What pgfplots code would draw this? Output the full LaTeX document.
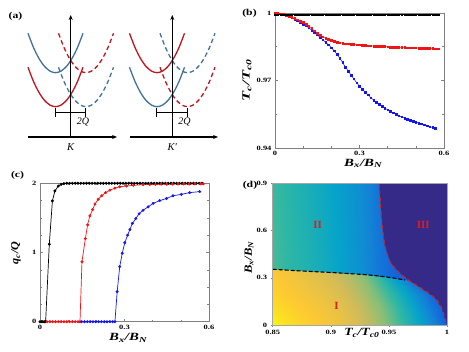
\documentclass[border=0pt]{standalone}
\usepackage{fontspec}
\setmainfont{Liberation Serif}
\usepackage{pgfplots}
\pgfplotsset{compat=1.18}
\usetikzlibrary{arrows.meta}

\definecolor{sred}{HTML}{C0141C}
\definecolor{sblue}{HTML}{41719C}
\definecolor{dred}{HTML}{F01414}
\definecolor{dblue}{HTML}{1414F0}
\definecolor{framegray}{gray}{0.5}
\definecolor{navy}{rgb}{0.2081,0.1663,0.5292}
\definecolor{bred}{HTML}{DC1E1E}

% the source figure was stretched sideways, so its text is wider than tall
\newcommand{\hs}[2][1.3]{\scalebox{#1}[1]{#2}}

\pgfplotsset{
  panel/.style={
    scale only axis, clip=false,
    axis line style={framegray, line width=0.6pt},
    tick style={framegray, line width=0.5pt},
    tick align=inside, major tick length=3pt, minor tick length=2pt,
    tick label style={font=\fontsize{6.5}{7}\selectfont\bfseries},
    /pgf/number format/assume math mode=true,
    xticklabel={\hs{\pgfmathprintnumber{\tick}}},
    yticklabel={\hs{\pgfmathprintnumber{\tick}}},
    label style={font=\fontsize{11}{12}\selectfont\bfseries\itshape},
  },
  solidc/.style={line width=1.3pt, smooth},
  dashc/.style={line width=1.3pt, smooth, dash pattern=on 4.5pt off 3pt},
}

\begin{document}
\begin{tikzpicture}
\useasboundingbox (0,0) rectangle (469pt,352pt);

% ---- (a) schematic, drawn in pixel units
\begin{axis}[at={(0pt,182pt)}, anchor=south west, scale only axis,
  width=235pt, height=170pt, xmin=0, xmax=235, ymin=0, ymax=170,
  y dir=reverse, axis lines=none, clip=false]
% K valley
\addplot[sblue, solidc] coordinates {(28,33.3) (33.5,47.5) (39,58.5) (44.5,66.4) (50,71.1) (55.5,72.7) (61,71.1) (66.5,66.4) (72,58.5) (77.5,47.5) (83,33.3)};
\addplot[sred, solidc] coordinates {(28,67.3) (33.5,81.5) (39,92.5) (44.5,100.4) (50,105.1) (55.5,106.7) (61,105.1) (66.5,100.4) (72,92.5) (77.5,81.5) (83,67.3)};
\addplot[sred, dashc] coordinates {(58.5,33.3) (64,47.5) (69.5,58.5) (75,66.4) (80.5,71.1) (86,72.7) (91.5,71.1) (97,66.4) (102.5,58.5) (108,47.5) (113.5,33.3)};
\addplot[sblue, dashc] coordinates {(58.5,67.3) (64,81.5) (69.5,92.5) (75,100.4) (80.5,105.1) (86,106.7) (91.5,105.1) (97,100.4) (102.5,92.5) (108,81.5) (113.5,67.3)};
% K' valley
\addplot[sred, solidc] coordinates {(129.5,33.3) (135,47.5) (140.5,58.5) (146,66.4) (151.5,71.1) (157,72.7) (162.5,71.1) (168,66.4) (173.5,58.5) (179,47.5) (184.5,33.3)};
\addplot[sblue, solidc] coordinates {(129.5,67.3) (135,81.5) (140.5,92.5) (146,100.4) (151.5,105.1) (157,106.7) (162.5,105.1) (168,100.4) (173.5,92.5) (179,81.5) (184.5,67.3)};
\addplot[sblue, dashc] coordinates {(160,33.3) (165.5,47.5) (171,58.5) (176.5,66.4) (182,71.1) (187.5,72.7) (193,71.1) (198.5,66.4) (204,58.5) (209.5,47.5) (215,33.3)};
\addplot[sred, dashc] coordinates {(160,67.3) (165.5,81.5) (171,92.5) (176.5,100.4) (182,105.1) (187.5,106.7) (193,105.1) (198.5,100.4) (204,92.5) (209.5,81.5) (215,67.3)};
% axes
\addplot[black, line width=1.2pt, -{Stealth[length=5pt,width=4pt]}] coordinates {(70.7,137) (70.7,15)};
\addplot[black, line width=1.2pt, -{Stealth[length=5pt,width=4pt]}] coordinates {(28,137) (117,137)};
\addplot[black, line width=1.2pt, -{Stealth[length=5pt,width=4pt]}] coordinates {(172.3,137) (172.3,15)};
\addplot[black, line width=1.2pt, -{Stealth[length=5pt,width=4pt]}] coordinates {(130,137) (218,137)};
% 2Q brackets
\addplot[black, line width=0.8pt, {Bar[width=9pt]}-{Bar[width=9pt]}] coordinates {(54.5,112.7) (86,112.7)};
\addplot[black, line width=0.8pt, {Bar[width=9pt]}-{Bar[width=9pt]}] coordinates {(156,112.7) (187.5,112.7)};
\node[font=\fontsize{10}{11}\selectfont\itshape] at (axis cs:83,122.5) {2Q};
\node[font=\fontsize{10}{11}\selectfont\itshape] at (axis cs:184.5,122.5) {2Q};
\node[font=\fontsize{10.5}{11}\selectfont\itshape] at (axis cs:70.7,147) {K};
\node[font=\fontsize{10.5}{11}\selectfont\itshape] at (axis cs:172.3,147) {K′};
\end{axis}

% ---- (b)
\begin{axis}[panel, at={(275pt,204pt)}, anchor=south west, width=169pt, height=135pt,
  xmin=0, xmax=0.6, ymin=0.94, ymax=1,
  xtick={0,0.3,0.6}, minor xtick={0.1,0.2,0.4,0.5},
  ytick={0.94,0.97,1}, minor ytick={0.955,0.985},
  xlabel={\hs[1.35]{B\textsubscript{x}/B\textsubscript{N}}},
  ylabel={\hs[1.5]{T\textsubscript{c}/T\textsubscript{c0}}},
  xlabel style={at={(axis description cs:0.522,-0.115)}, anchor=center},
  ylabel style={at={(axis description cs:-0.166,0.504)}, anchor=center},
]
\addplot[dblue, line width=0.5pt, mark=square*, mark size=0.8pt] coordinates {
(0.00,1.0000) (0.01,0.9999) (0.02,0.9997) (0.03,0.9994) (0.04,0.9990) (0.05,0.9985)
(0.06,0.9979) (0.07,0.9972) (0.08,0.9965) (0.09,0.9958) (0.10,0.9951) (0.11,0.9943)
(0.12,0.9934) (0.13,0.9924) (0.14,0.9914) (0.15,0.9903) (0.16,0.9892) (0.17,0.9881)
(0.18,0.9870) (0.19,0.9858) (0.20,0.9846) (0.21,0.9832) (0.22,0.9817) (0.23,0.9800)
(0.24,0.9780) (0.25,0.9760) (0.26,0.9742) (0.27,0.9724) (0.28,0.9707) (0.29,0.9690)
(0.30,0.9675) (0.31,0.9661) (0.32,0.9648) (0.33,0.9636) (0.34,0.9624) (0.35,0.9613)
(0.36,0.9603) (0.37,0.9594) (0.38,0.9585) (0.39,0.9577) (0.40,0.9570) (0.41,0.9563)
(0.42,0.9556) (0.43,0.9550) (0.44,0.9544) (0.45,0.9538) (0.46,0.9533) (0.47,0.9528)
(0.48,0.9523) (0.49,0.9519) (0.50,0.9515) (0.51,0.9511) (0.52,0.9507) (0.53,0.9503)
(0.54,0.9499) (0.55,0.9495) (0.56,0.9491) (0.57,0.9488)};
\addplot[dred, line width=0.5pt, mark=square*, mark size=0.8pt] coordinates {
(0.00,1.0000) (0.01,0.9999) (0.02,0.9997) (0.03,0.9994) (0.04,0.9990) (0.05,0.9986)
(0.06,0.9981) (0.07,0.9976) (0.08,0.9970) (0.09,0.9964) (0.10,0.9958) (0.11,0.9950)
(0.12,0.9941) (0.13,0.9931) (0.14,0.9921) (0.15,0.9911) (0.16,0.9902) (0.17,0.9894)
(0.18,0.9887) (0.19,0.9882) (0.20,0.9878) (0.21,0.9874) (0.22,0.9871) (0.23,0.9868)
(0.24,0.9866) (0.25,0.9864) (0.26,0.9863) (0.27,0.9861) (0.28,0.9860) (0.29,0.9859)
(0.30,0.9858) (0.31,0.9857) (0.32,0.9856) (0.33,0.9855) (0.34,0.9854) (0.35,0.9853)
(0.36,0.9853) (0.37,0.9852) (0.38,0.9851) (0.39,0.9851) (0.40,0.9850) (0.41,0.9849)
(0.42,0.9849) (0.43,0.9848) (0.44,0.9848) (0.45,0.9847) (0.46,0.9847) (0.47,0.9846)
(0.48,0.9846) (0.49,0.9845) (0.50,0.9845) (0.51,0.9844) (0.52,0.9844) (0.53,0.9843)
(0.54,0.9843) (0.55,0.9842) (0.56,0.9842) (0.57,0.9841) (0.58,0.9841)};
\addplot[black, line width=0.5pt, mark=square*, mark size=0.8pt] coordinates {
(0.00,0.9993) (0.01,0.9993) (0.02,0.9993) (0.03,0.9993) (0.04,0.9993) (0.05,0.9993)
(0.06,0.9993) (0.07,0.9993) (0.08,0.9993) (0.09,0.9993) (0.10,0.9993) (0.11,0.9993)
(0.12,0.9993) (0.13,0.9993) (0.14,0.9993) (0.15,0.9993) (0.16,0.9993) (0.17,0.9993)
(0.18,0.9993) (0.19,0.9993) (0.20,0.9993) (0.21,0.9993) (0.22,0.9993) (0.23,0.9993)
(0.24,0.9993) (0.25,0.9993) (0.26,0.9993) (0.27,0.9993) (0.28,0.9993) (0.29,0.9993)
(0.30,0.9993) (0.31,0.9993) (0.32,0.9993) (0.33,0.9993) (0.34,0.9993) (0.35,0.9993)
(0.36,0.9993) (0.37,0.9993) (0.38,0.9993) (0.39,0.9993) (0.40,0.9993) (0.41,0.9993)
(0.42,0.9993) (0.43,0.9993) (0.44,0.9993) (0.45,0.9993) (0.46,0.9993) (0.47,0.9993)
(0.48,0.9993) (0.49,0.9993) (0.50,0.9993) (0.51,0.9993) (0.52,0.9993) (0.53,0.9993)
(0.54,0.9993) (0.55,0.9993) (0.56,0.9993) (0.57,0.9993) (0.58,0.9993)};
\end{axis}

% ---- (c)
\begin{axis}[panel, at={(40pt,30.3pt)}, anchor=south west, width=169pt, height=138.4pt,
  xmin=0, xmax=0.6, ymin=0, ymax=2,
  xtick={0,0.3,0.6}, minor xtick={0.1,0.2,0.4,0.5},
  ytick={0,1,2}, minor ytick={0.25,0.5,0.75,1.25,1.5,1.75},
  xlabel={\hs[1.35]{B\textsubscript{x}/B\textsubscript{N}}},
  ylabel={\hs[1.1]{q\textsubscript{c}/Q}},
  xlabel style={at={(axis description cs:0.522,-0.118)}, anchor=center},
  ylabel style={at={(axis description cs:-0.142,0.496)}, anchor=center},
]
\addplot[black, line width=0.7pt, mark=*, mark size=1.1pt] coordinates {
(0,0) (0.005,0) (0.01,0) (0.015,0) (0.02,0) (0.033,1.12) (0.044,1.745) (0.053,1.89)
(0.065,1.96) (0.075,1.985) (0.085,1.995) (0.095,2) (0.105,2) (0.115,2) (0.125,2)
(0.135,2) (0.145,2) (0.155,2) (0.165,2) (0.175,2) (0.185,2) (0.195,2) (0.205,2)
(0.215,2) (0.225,2) (0.235,2) (0.245,2) (0.255,2) (0.265,2) (0.275,2) (0.285,2)
(0.295,2) (0.305,2) (0.315,2) (0.325,2) (0.335,2) (0.345,2) (0.355,2) (0.365,2)
(0.375,2) (0.385,2) (0.395,2) (0.405,2) (0.415,2) (0.425,2) (0.435,2) (0.445,2)
(0.455,2) (0.465,2) (0.475,2) (0.485,2) (0.495,2) (0.505,2) (0.515,2) (0.525,2)
(0.535,2) (0.545,2) (0.555,2) (0.565,2) (0.575,2)};
\addplot[dred, line width=0.7pt, mark=*, mark size=1.1pt] coordinates {
(0.025,0) (0.035,0) (0.045,0) (0.055,0) (0.065,0) (0.075,0) (0.085,0) (0.095,0)
(0.105,0) (0.115,0) (0.125,0) (0.135,0) (0.142,0) (0.149,0.867) (0.161,1.2)
(0.169,1.40) (0.177,1.53) (0.187,1.62) (0.195,1.70) (0.207,1.77) (0.219,1.82)
(0.233,1.865) (0.248,1.90) (0.266,1.93) (0.283,1.95) (0.307,1.96) (0.331,1.97)
(0.366,1.98) (0.39,1.982) (0.41,1.984) (0.43,1.986) (0.45,1.987) (0.47,1.988)
(0.49,1.989) (0.51,1.99) (0.53,1.99) (0.55,1.991) (0.57,1.992) (0.58,1.992)};
\addplot[dblue, line width=0.7pt, mark=*, mark size=1.1pt] coordinates {
(0.148,0) (0.158,0) (0.168,0) (0.178,0) (0.188,0) (0.198,0) (0.208,0) (0.218,0)
(0.228,0) (0.238,0) (0.248,0) (0.258,0) (0.266,0) (0.274,0.434) (0.283,0.795)
(0.292,0.988) (0.301,1.14) (0.311,1.25) (0.319,1.33) (0.328,1.42) (0.340,1.49)
(0.352,1.56) (0.366,1.61) (0.384,1.66) (0.402,1.71) (0.425,1.75) (0.449,1.78)
(0.472,1.82) (0.502,1.84) (0.531,1.865) (0.567,1.88)};
\end{axis}

% ---- (d)
\begin{axis}[panel, at={(272.7pt,27pt)}, anchor=south west, width=174.3pt, height=141.7pt,
  clip=true, axis on top,
  axis line style={gray!70, line width=0.8pt},
  tick align=outside, xtick pos=bottom, ytick pos=left, major tick length=2pt,
  xmin=0.85, xmax=1, ymin=0, ymax=0.9,
  xtick={0.85,0.9,0.95,1}, ytick={0,0.3,0.6,0.9},
  colormap={parula}{rgb=(0.2081,0.1663,0.5292) rgb=(0.0592,0.3599,0.8684)
    rgb=(0.0780,0.5041,0.8385) rgb=(0.0232,0.6419,0.7914) rgb=(0.1802,0.7178,0.6425)
    rgb=(0.5301,0.7492,0.4662) rgb=(0.8186,0.7328,0.3499) rgb=(0.9956,0.7862,0.1968)
    rgb=(0.9764,0.9832,0.0538)},
  point meta min=0, point meta max=1,
  xlabel={\hs[1.25]{T\textsubscript{c}/T\textsubscript{c0}}},
  ylabel={\hs[1.15]{B\textsubscript{x}/B\textsubscript{N}}},
  xlabel style={at={(axis description cs:0.512,-0.055)}, anchor=center},
  ylabel style={at={(axis description cs:-0.136,0.478)}, anchor=center},
]
% field above the black dashed line (region II)
\addplot[surf, shader=interp, mesh/cols=11, point meta=explicit] table[meta=c] {
x y c
0.85 0.25 0.54
0.865 0.25 0.50
0.88 0.25 0.46
0.895 0.25 0.42
0.91 0.25 0.37
0.925 0.25 0.31
0.94 0.25 0.23
0.955 0.25 0.16
0.97 0.25 0.13
0.985 0.25 0.11
1.0 0.25 0.10

0.85 0.9 0.52
0.865 0.9 0.48
0.88 0.9 0.44
0.895 0.9 0.40
0.91 0.9 0.35
0.925 0.9 0.30
0.94 0.9 0.21
0.955 0.9 0.14
0.97 0.9 0.12
0.985 0.9 0.11
1.0 0.9 0.10
};
% field below the black dashed line (region I)
\addplot[surf, shader=interp, mesh/cols=11, point meta=explicit] table[meta=c] {
x y c
0.85 0 0.99
0.865 0 0.93
0.88 0 0.89
0.895 0 0.86
0.91 0 0.82
0.925 0 0.76
0.94 0 0.68
0.955 0 0.56
0.97 0 0.44
0.985 0 0.30
1.0 0 0.14

0.85 0.1 0.93
0.865 0.1 0.90
0.88 0.1 0.87
0.895 0.1 0.84
0.91 0.1 0.80
0.925 0.1 0.74
0.94 0.1 0.65
0.955 0.1 0.53
0.97 0.1 0.40
0.985 0.1 0.24
1.0 0.1 0.12

0.85 0.2 0.90
0.865 0.2 0.87
0.88 0.2 0.84
0.895 0.2 0.81
0.91 0.2 0.77
0.925 0.2 0.70
0.94 0.2 0.60
0.955 0.2 0.47
0.97 0.2 0.33
0.985 0.2 0.18
1.0 0.2 0.11

0.85 0.354 0.87
0.865 0.348 0.84
0.88 0.343 0.80
0.895 0.337 0.77
0.91 0.331 0.72
0.925 0.322 0.64
0.94 0.312 0.52
0.955 0.298 0.36
0.97 0.28 0.20
0.985 0.27 0.13
1.0 0.26 0.11
};
% region III
\addplot[fill=navy, draw=none] coordinates {
(0.9415,0.92) (0.9415,0.9) (0.9425,0.8) (0.9438,0.667) (0.9455,0.55) (0.9467,0.498)
(0.951,0.402) (0.958,0.339) (0.9667,0.286) (0.978,0.233) (0.990,0.169) (0.9955,0.106)
(0.999,0.021) (1.0,0) (1.0,-0.02) (1.01,-0.02) (1.01,0.92)} -- cycle;
\addplot[bred, line width=1.1pt, dash pattern=on 4pt off 3pt, smooth] coordinates {
(0.9415,0.9) (0.9425,0.8) (0.9438,0.667) (0.9455,0.55) (0.9467,0.498)
(0.951,0.402) (0.958,0.339) (0.9667,0.286) (0.978,0.233) (0.990,0.169) (0.9955,0.106)
(0.999,0.021)};
\addplot[black, line width=1.1pt, dash pattern=on 4pt off 2pt, smooth] coordinates {
(0.85,0.354) (0.875,0.343) (0.9037,0.332) (0.9323,0.318) (0.9496,0.303) (0.9639,0.286)};
\node[text=bred, font=\fontsize{11}{12}\selectfont\bfseries] at (axis cs:0.8887,0.635) {II};
\node[text=bred, font=\fontsize{11}{12}\selectfont\bfseries] at (axis cs:0.9796,0.635) {III};
\node[text=bred, font=\fontsize{11}{12}\selectfont\bfseries] at (axis cs:0.905,0.12) {I};
\end{axis}

% panel letters
\node[font=\fontsize{9}{10}\selectfont\bfseries] at (15.5pt,336pt) {\hs{(a)}};
\node[font=\fontsize{9}{10}\selectfont\bfseries] at (249.5pt,338.7pt) {\hs{(b)}};
\node[font=\fontsize{9}{10}\selectfont\bfseries] at (17.5pt,177pt) {\hs{(c)}};
\node[font=\fontsize{9}{10}\selectfont\bfseries] at (250pt,167pt) {\hs{(d)}};
\end{tikzpicture}
\end{document}
